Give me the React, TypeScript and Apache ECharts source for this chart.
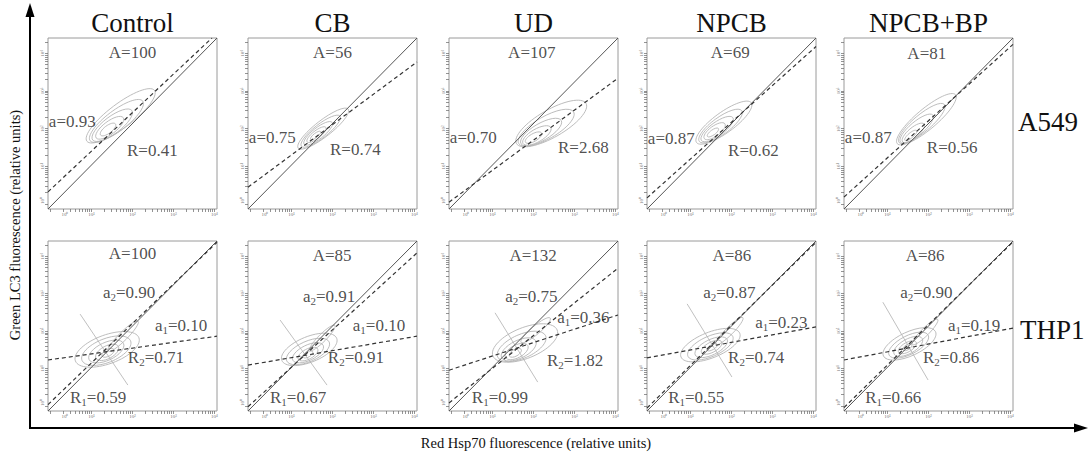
import React, { useEffect, useRef } from "react";
import * as echarts from "echarts";

// ---------------- data ----------------
const panelTitles = ["Control", "CB", "UD", "NPCB", "NPCB+BP"];
const cellLines = ["A549", "THP1"];

// A549 row
const areaA549 = [100, 56, 107, 69, 81];
const slopeA549 = [0.93, 0.75, 0.7, 0.87, 0.87];
const ratioA549 = [0.41, 0.74, 2.68, 0.62, 0.56];

// THP1 row
const areaTHP1 = [100, 85, 132, 86, 86];
const slope1THP1 = [0.1, 0.1, 0.36, 0.23, 0.19];
const slope2THP1 = [0.9, 0.91, 0.75, 0.87, 0.9];
const ratio1THP1 = [0.59, 0.67, 0.99, 0.55, 0.66];
const ratio2THP1 = [0.71, 0.91, 1.82, 0.74, 0.86];

// fitted lines, endpoints in log-decade units [x0, y0, x1, y1]
const identityLine = [0, 0, 4, 4];
const fitA549 = [
  [0, 0.4, 3.88, 4],
  [0, 0.51, 4, 3.44],
  [0, 0.16, 4, 3.06],
  [0, 0.26, 4, 3.8],
  [0, 0.28, 4, 3.85],
];
const fit1THP1 = [
  [0, 1.2, 4, 1.76],
  [0, 1.08, 4, 1.76],
  [0, 0.96, 4, 2.26],
  [0, 1.25, 4, 1.98],
  [0, 1.2, 4, 1.95],
];
const fit2THP1 = [
  [0, 0.15, 4, 3.97],
  [0, 0.1, 4, 3.72],
  [0, 0.19, 4, 3.36],
  [0, 0.07, 4, 3.97],
  [0, 0.08, 4, 3.98],
];
const perpTHP1 = [
  [0.76, 2.28, 1.89, 0.61],
  [0.76, 2.14, 1.87, 0.61],
  [1.09, 2.31, 2.1, 0.68],
  [0.95, 2.52, 2.01, 0.8],
  [0.92, 2.56, 1.99, 0.73],
];

// contour levels [cx, cy, rx, ry, angleDeg] in log-decade units
const contoursA549 = [
  [[1.72, 2.18, 1.0, 0.28, 37], [1.62, 2.06, 0.78, 0.24, 37], [1.52, 1.96, 0.58, 0.2, 37], [1.46, 1.9, 0.4, 0.15, 37], [1.42, 1.86, 0.22, 0.09, 37]],
  [[1.78, 1.88, 0.75, 0.19, 38], [1.72, 1.82, 0.58, 0.16, 38], [1.66, 1.77, 0.42, 0.13, 38], [1.62, 1.74, 0.28, 0.09, 38], [1.6, 1.72, 0.15, 0.05, 38]],
  [[2.42, 2.0, 0.95, 0.32, 30], [2.3, 1.9, 0.75, 0.26, 30], [2.18, 1.8, 0.55, 0.2, 30], [2.08, 1.72, 0.38, 0.15, 30], [2.0, 1.67, 0.22, 0.09, 30]],
  [[1.82, 2.02, 0.8, 0.24, 36], [1.74, 1.94, 0.62, 0.2, 36], [1.66, 1.87, 0.46, 0.16, 36], [1.6, 1.82, 0.3, 0.12, 36], [1.56, 1.79, 0.16, 0.06, 36]],
  [[1.95, 2.1, 0.9, 0.24, 40], [1.84, 2.0, 0.7, 0.2, 40], [1.72, 1.88, 0.5, 0.16, 40], [1.64, 1.78, 0.33, 0.12, 40], [1.58, 1.72, 0.18, 0.06, 40]],
];
const contoursTHP1 = [
  [[1.4, 1.45, 0.8, 0.34, 20], [1.38, 1.42, 0.62, 0.28, 22], [1.38, 1.4, 0.45, 0.21, 25], [1.4, 1.38, 0.3, 0.15, 28], [1.42, 1.37, 0.16, 0.08, 30], [1.78, 1.76, 0.5, 0.1, 45]],
  [[1.45, 1.45, 0.7, 0.3, 22], [1.42, 1.4, 0.55, 0.24, 24], [1.42, 1.37, 0.4, 0.18, 26], [1.42, 1.34, 0.26, 0.12, 28], [1.42, 1.33, 0.13, 0.06, 30], [1.76, 1.72, 0.42, 0.09, 45]],
  [[1.8, 1.6, 0.82, 0.36, 22], [1.72, 1.52, 0.62, 0.28, 24], [1.65, 1.45, 0.45, 0.21, 26], [1.6, 1.4, 0.3, 0.15, 28], [1.57, 1.37, 0.16, 0.08, 30], [2.05, 1.9, 0.45, 0.1, 40]],
  [[1.5, 1.55, 0.75, 0.3, 22], [1.5, 1.52, 0.58, 0.24, 24], [1.52, 1.5, 0.42, 0.18, 26], [1.53, 1.5, 0.27, 0.12, 28], [1.54, 1.5, 0.14, 0.06, 30], [1.95, 1.88, 0.45, 0.09, 45]],
  [[1.55, 1.58, 0.68, 0.28, 25], [1.53, 1.55, 0.52, 0.22, 27], [1.52, 1.52, 0.38, 0.17, 29], [1.5, 1.5, 0.24, 0.11, 30], [1.5, 1.5, 0.12, 0.06, 32], [1.92, 1.86, 0.42, 0.09, 45]],
];

// tick labels of each small panel (log decades)
const tickLabels = ["10\u2070", "10\u00b9", "10\u00b2", "10\u00b3", "10\u2074"];

// ---------------- layout ----------------
const GRID_LEFT = [48, 248, 449, 647, 844];
const GRID_TOP = [38, 241];
const GRID_W = 169;
const GRID_H = [171, 170];
const xLabelPos = [0.4, 1.03, 2.0, 2.97, 3.94];
const yLabelPos = [0.2, 1.0, 1.88, 2.76, 3.64];
const xDecades = [0.06, 1.03, 2.0, 2.97, 3.94];
const yDecades = [0.12, 1.0, 1.88, 2.76, 3.64];

// label anchors [x, y] in panel units
const labelPosA549 = [
  { A: [2.0, 3.65], a: [0.02, 2.04], R: [1.87, 1.38] },
  { A: [2.0, 3.65], a: [0.02, 1.68], R: [1.94, 1.4] },
  { A: [1.96, 3.65], a: [0.02, 1.68], R: [2.58, 1.43] },
  { A: [1.97, 3.65], a: [0.02, 1.66], R: [1.92, 1.38] },
  { A: [1.96, 3.63], a: [0.02, 1.68], R: [1.96, 1.43] },
];
const labelPosTHP1 = [
  { A: [2.0, 3.7], a2: [1.3, 2.8], a1: [2.53, 2.02], R2: [1.89, 1.25], R1: [0.52, 0.31] },
  { A: [1.99, 3.67], a2: [1.3, 2.7], a1: [2.48, 2.02], R2: [1.89, 1.25], R1: [0.52, 0.31] },
  { A: [1.99, 3.67], a2: [1.33, 2.7], a1: [2.56, 2.21], R2: [2.32, 1.2], R1: [0.54, 0.31] },
  { A: [2.01, 3.67], a2: [1.33, 2.8], a1: [2.56, 2.09], R2: [1.92, 1.25], R1: [0.5, 0.31] },
  { A: [1.92, 3.67], a2: [1.33, 2.8], a1: [2.46, 2.02], R2: [1.87, 1.25], R1: [0.5, 0.31] },
];

const FONT = "Liberation Serif";
const fmt = (v: number) => v.toFixed(2);

function logTicks(decades: number[]): number[] {
  const step = decades[2] - decades[1];
  const out: number[] = [];
  decades.forEach((d) => {
    for (let k = 1; k <= 9; k++) {
      const v = d + Math.log10(k) * step;
      if (v >= 0 && v <= 4) out.push(+v.toFixed(4));
    }
  });
  return out;
}

function nearestLabel(v: number, pos: number[]): string {
  let best = 0;
  pos.forEach((p, i) => {
    if (Math.abs(p - v) < Math.abs(pos[best] - v)) best = i;
  });
  return tickLabels[best];
}

export default function App() {
  const ref = useRef<HTMLDivElement>(null);

  useEffect(() => {
    const chart = echarts.init(ref.current as HTMLDivElement, null, { renderer: "svg" });
    const grids: any[] = [];
    const xAxes: any[] = [];
    const yAxes: any[] = [];
    const series: any[] = [];
    const xTicks = logTicks(xDecades);
    const yTicks = logTicks(yDecades);

    const lineSeries = (gi: number, seg: number[], style: any, z: number) => ({
      type: "line",
      xAxisIndex: gi,
      yAxisIndex: gi,
      data: [[seg[0], seg[1]], [seg[2], seg[3]]],
      showSymbol: false,
      symbol: "none",
      silent: true,
      z,
      lineStyle: style,
    });

    for (let r = 0; r < 2; r++) {
      for (let c = 0; c < 5; c++) {
        const gi = r * 5 + c;
        grids.push({
          left: GRID_LEFT[c],
          top: GRID_TOP[r],
          width: GRID_W,
          height: GRID_H[r],
          show: true,
          borderColor: "#9a9a9a",
          borderWidth: 1,
          backgroundColor: "#fff",
        });
        xAxes.push({
          type: "value",
          gridIndex: gi,
          min: 0,
          max: 4,
          axisLine: { show: false },
          splitLine: { show: false },
          axisTick: { show: true, length: 3, lineStyle: { color: "#666", width: 0.7 }, customValues: xTicks },
          axisLabel: {
            show: true,
            customValues: xLabelPos,
            formatter: (v: number) => nearestLabel(v, xLabelPos),
            fontSize: 5,
            color: "#777",
            margin: 3,
            fontFamily: FONT,
          },
        });
        yAxes.push({
          type: "value",
          gridIndex: gi,
          min: 0,
          max: 4,
          axisLine: { show: false },
          splitLine: { show: false },
          axisTick: { show: true, length: 3, lineStyle: { color: "#666", width: 0.7 }, customValues: yTicks },
          axisLabel: {
            show: true,
            customValues: yLabelPos,
            formatter: (v: number) => nearestLabel(v, yLabelPos),
            fontSize: 5,
            color: "#777",
            margin: 3,
            rotate: 90,
            fontFamily: FONT,
          },
        });

        const contours = r === 0 ? contoursA549[c] : contoursTHP1[c];
        series.push({
          type: "custom",
          xAxisIndex: gi,
          yAxisIndex: gi,
          data: contours,
          silent: true,
          clip: true,
          z: 1,
          renderItem: (_p: any, api: any) => {
            const ctr = api.coord([api.value(0), api.value(1)]);
            const sz = api.size([api.value(2), api.value(3)]);
            return {
              type: "ellipse",
              x: ctr[0],
              y: ctr[1],
              rotation: (api.value(4) * Math.PI) / 180,
              shape: { cx: 0, cy: 0, rx: sz[0], ry: sz[1] },
              style: { fill: "none", stroke: "#b4b4b4", lineWidth: 0.8 },
            };
          },
        });

        series.push(lineSeries(gi, identityLine, { color: "#555", width: 1, type: "solid" }, 3));
        if (r === 0) {
          series.push(lineSeries(gi, fitA549[c], { color: "#333", width: 1.2, type: [4, 3] }, 4));
        } else {
          series.push(lineSeries(gi, perpTHP1[c], { color: "#b0b0b0", width: 0.8, type: "solid" }, 2));
          series.push(lineSeries(gi, fit1THP1[c], { color: "#333", width: 1.2, type: [4, 3] }, 4));
          series.push(lineSeries(gi, fit2THP1[c], { color: "#333", width: 1.2, type: [4, 3] }, 4));
        }

        const items: any[] = [];
        const add = (pos: number[], text: string, align: string) =>
          items.push({ name: text, value: pos, label: { align, verticalAlign: "middle" } });
        if (r === 0) {
          const p = labelPosA549[c];
          add(p.A, "A=" + areaA549[c], "center");
          add(p.a, "a=" + fmt(slopeA549[c]), "left");
          add(p.R, "R=" + fmt(ratioA549[c]), "left");
        } else {
          const p = labelPosTHP1[c];
          add(p.A, "A=" + areaTHP1[c], "center");
          add(p.a2, "a{s|2}=" + fmt(slope2THP1[c]), "left");
          add(p.a1, "a{s|1}=" + fmt(slope1THP1[c]), "left");
          add(p.R2, "R{s|2}=" + fmt(ratio2THP1[c]), "left");
          add(p.R1, "R{s|1}=" + fmt(ratio1THP1[c]), "left");
        }
        series.push({
          type: "scatter",
          xAxisIndex: gi,
          yAxisIndex: gi,
          symbolSize: 0,
          silent: true,
          z: 10,
          data: items,
          label: {
            show: true,
            position: "inside",
            formatter: (p: any) => p.name,
            fontSize: 17,
            fontFamily: FONT,
            color: "#222",
            lineHeight: 20,
            rich: {
              s: { fontSize: 11, fontFamily: FONT, color: "#222", verticalAlign: "bottom", lineHeight: 10 },
            },
          },
        });
      }
    }

    const txt = (x: number, y: number, text: string, size: number, align: string, extra: any = {}) => ({
      type: "text",
      x,
      y,
      ...extra,
      style: {
        text,
        fontSize: size,
        fontFamily: FONT,
        textAlign: align,
        textVerticalAlign: "middle",
        fill: "#111",
      },
    });

    const graphics: any[] = [];
    panelTitles.forEach((t, c) => {
      graphics.push(txt(GRID_LEFT[c] + GRID_W / 2, 23, t, 27, "center"));
    });
    graphics.push(txt(1018, 122, cellLines[0], 27, "left"));
    graphics.push(txt(1020, 330, cellLines[1], 27, "left"));
    graphics.push(txt(15, 225, "Green LC3 fluorescence (relative units)", 14.5, "center", { rotation: Math.PI / 2 }));
    graphics.push(txt(536, 443, "Red Hsp70 fluorescence (relative units)", 14.5, "center"));
    graphics.push({ type: "line", shape: { x1: 30, y1: 429, x2: 30, y2: 14 }, style: { stroke: "#000", lineWidth: 2 } });
    graphics.push({ type: "polygon", shape: { points: [[30, 3], [25.5, 17], [34.5, 17]] }, style: { fill: "#000" } });
    graphics.push({ type: "line", shape: { x1: 29, y1: 428, x2: 1076, y2: 428 }, style: { stroke: "#000", lineWidth: 2 } });
    graphics.push({ type: "polygon", shape: { points: [[1088, 428], [1074, 423.5], [1074, 432.5]] }, style: { fill: "#000" } });

    chart.setOption({
      animation: false,
      backgroundColor: "#fff",
      grid: grids,
      xAxis: xAxes,
      yAxis: yAxes,
      series,
      graphic: graphics,
    });
    return () => chart.dispose();
  }, []);

  return <div ref={ref} style={{ position: "absolute", left: 0, top: 0, width: 1090, height: 452 }} />;
}
